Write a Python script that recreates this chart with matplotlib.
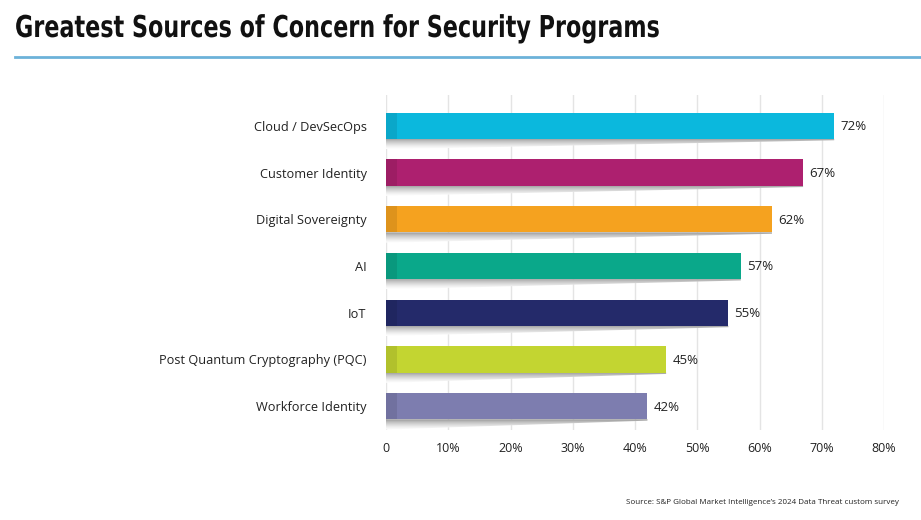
import numpy as np
import matplotlib.pyplot as plt
from matplotlib.patches import Polygon, Rectangle, PathPatch
from matplotlib.textpath import TextPath
from matplotlib.font_manager import FontProperties
from matplotlib.transforms import Affine2D, IdentityTransform

categories = ['Cloud / DevSecOps', 'Customer Identity', 'Digital Sovereignty', 'AI',
              'IoT', 'Post Quantum Cryptography (PQC)', 'Workforce Identity']
values = [72, 67, 62, 57, 55, 45, 42]
colors = ['#0bb8dd', '#ad206f', '#f5a21f', '#0aa88a', '#242a6a', '#c3d531', '#7d7daf']
ticks = [0, 10, 20, 30, 40, 50, 60, 70, 80]
tick_labels = ['0', '10%', '20%', '30%', '40%', '50%', '60%', '70%', '80%']
title = 'Greatest Sources of Concern for Security Programs'
source = "Source: S&P Global Market Intelligence\u2019s 2024 Data Threat custom survey"

plt.rcParams['font.family'] = ['Open Sans', 'DejaVu Sans']

DPI = 100
fig = plt.figure(figsize=(9.21, 5.2), dpi=DPI)
ax = fig.add_axes([386 / 921, 1 - 430 / 520, 498 / 921, 335 / 520])

bar_h = 0.56
ypos = np.arange(len(categories))
grad = np.linspace(0.5, 0.0, 64).reshape(-1, 1)

for y, v, c in zip(ypos, values, colors):
    # fading shadow under each bar
    bottom = y + bar_h / 2
    poly = Polygon([(0, bottom), (v, bottom), (v, bottom + 0.03), (0, bottom + 0.22)],
                   closed=True, facecolor='none', edgecolor='none')
    ax.add_patch(poly)
    im = ax.imshow(grad, cmap='Greys', vmin=0, vmax=1, aspect='auto',
                   extent=(0, v, bottom + 0.22, bottom), zorder=1, interpolation='bilinear')
    im.set_clip_path(poly)
    ax.barh(y, v, height=bar_h, color=c, zorder=2)
    ax.add_patch(Rectangle((0, y - bar_h / 2), 1.7, bar_h, facecolor='black',
                           alpha=0.09, edgecolor='none', zorder=3))
    ax.text(v + 1.0, y + 0.02, f'{v}%', va='center', ha='left', fontsize=9.5, color='#222222')

ax.set_xlim(0, 80)
ax.set_ylim(6.51, -0.66)
ax.set_xticks(ticks)
ax.set_xticklabels(tick_labels, fontsize=9, color='#222222')
ax.set_yticks(ypos)
ax.set_yticklabels(categories, fontsize=9.2, color='#222222')
ax.tick_params(axis='both', length=0)
ax.tick_params(axis='y', pad=14)
ax.tick_params(axis='x', pad=9)
ax.grid(axis='x', color='#e4e4e4', linewidth=1.0, zorder=0)
ax.set_axisbelow(True)
for s in ax.spines.values():
    s.set_visible(False)

# condensed bold title: text path squeezed horizontally
tp = TextPath((0, 0), title, size=21.7, prop=FontProperties(family='DejaVu Sans', weight='bold'))
k = DPI / 72
tr = Affine2D().scale(0.74 * k, k).translate(15, 520 - 37)
fig.add_artist(PathPatch(tr.transform_path(tp), transform=IdentityTransform(),
                         facecolor='#111111', edgecolor='none'))
fig.add_artist(plt.Line2D([15 / 921, 1.0], [1 - 57 / 520] * 2, color='#6cb2d9', linewidth=2))
fig.text(899 / 921, 1 - 502 / 520, source, fontsize=5.8, ha='right', va='center', color='#222222')

fig.savefig('out.png', dpi=DPI)
